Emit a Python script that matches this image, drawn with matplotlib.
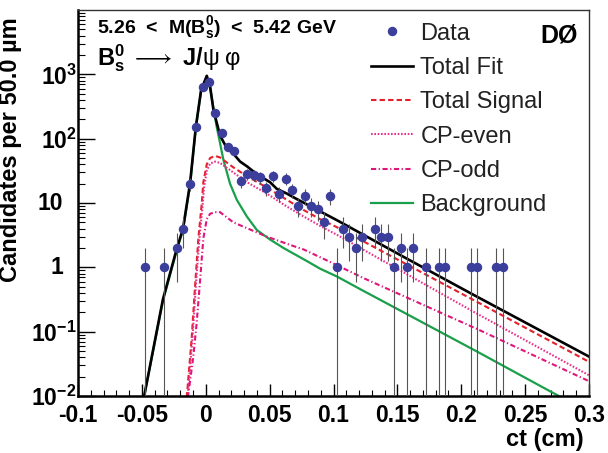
import matplotlib
matplotlib.use('Agg')
import matplotlib.pyplot as plt
from matplotlib.ticker import MultipleLocator, LogLocator, NullFormatter
import numpy as np

plt.rcParams['font.family'] = ['Liberation Sans', 'DejaVu Sans']
plt.rcParams['mathtext.fontset'] = 'custom'
plt.rcParams['mathtext.rm'] = 'Liberation Sans'
plt.rcParams['mathtext.it'] = 'Liberation Sans:italic'
plt.rcParams['mathtext.bf'] = 'Liberation Sans:bold'

# ------------------------------------------------------------------
# Data: candidates per 50 um bin (bin centres in cm)
# ------------------------------------------------------------------
bin_ct = [-0.0475, -0.0325, -0.0225, -0.0175, -0.0125, -0.0075, -0.0025,
          0.0025, 0.0075, 0.0125, 0.0175, 0.0225, 0.0275, 0.0325, 0.0375,
          0.0425, 0.0475, 0.0525, 0.0575, 0.0625, 0.0675, 0.0725, 0.0775,
          0.0825, 0.0875, 0.0925, 0.0975, 0.1025, 0.1075, 0.1125, 0.1175,
          0.1225, 0.1325, 0.1375, 0.1425, 0.1475, 0.1525, 0.1575, 0.1625,
          0.1725, 0.1825, 0.1875, 0.2075, 0.2125, 0.2275, 0.2325]
counts = [1, 1, 2, 4, 20, 150, 645,
          770, 250, 121, 73, 65, 22, 28, 27,
          25, 17, 26, 14, 24, 16, 9, 13,
          9, 8, 5, 13, 1, 4, 3, 2,
          3, 4, 3, 3, 1, 2, 1, 2,
          1, 1, 1, 1, 1, 1, 1]

# Fit curves
fit_ct = [-0.0484, -0.0335, -0.0225, -0.0178, -0.0123, -0.0078, -0.0037,
          0.0008, 0.0035, 0.006, 0.0112, 0.0165, 0.0214, 0.0269, 0.0324,
          0.04, 0.0504, 0.0556, 0.0635, 0.0713, 0.0896, 0.1027, 0.155,
          0.21, 0.30]
fit_val = [0.0095, 0.32, 2.0, 4.0, 20, 150, 560,
           950, 630, 280, 112, 71, 59, 44, 37,
           28, 21, 16.6, 14, 11.5, 7.4, 5.4, 1.45,
           0.37, 0.041]

sig_ct = [-0.0149, -0.011, -0.0084, -0.0058, -0.0031, -0.0019, 0.0008,
          0.0034, 0.0073, 0.0112, 0.0214, 0.0324, 0.0478, 0.0635, 0.0765,
          0.0896, 0.1027, 0.2124, 0.30]
sig_val = [0.0095, 0.08, 0.5, 2.8, 10, 21, 40,
           50, 54, 51, 36, 26, 17.4, 11.2, 7.8,
           5.6, 4.2, 0.29, 0.034]

even_ct = [-0.0142, -0.0104, -0.0078, -0.0052, -0.0026, -0.0014, 0.0008,
           0.0034, 0.0073, 0.0112, 0.0214, 0.0324, 0.0478, 0.0635, 0.0765,
           0.0896, 0.1027, 0.2124, 0.30]
even_val = [0.0095, 0.08, 0.5, 2.5, 8.5, 17, 32,
            41, 44, 42, 30, 21, 14, 8.8, 6.2,
            4.4, 3.2, 0.19, 0.021]

odd_ct = [-0.0140, -0.0098, -0.0072, -0.0045, -0.0019, 0.0008, 0.0034,
          0.0073, 0.0112, 0.0216, 0.0478, 0.0669, 0.0765, 0.0998, 0.1235,
          0.2124, 0.30]
odd_val = [0.0095, 0.04, 0.13, 0.6, 2.8, 5.6, 6.8,
           7.2, 7.2, 5.0, 3.0, 2.2, 1.9, 1.15, 0.68,
           0.11, 0.017]

bkg_ct = [-0.0484, -0.0335, -0.0225, -0.0178, -0.0123, -0.0078, -0.0037,
          0.0008, 0.0035, 0.0085, 0.0112, 0.0138, 0.019, 0.0243, 0.0321,
          0.04, 0.0504, 0.0608, 0.0792, 0.0896, 0.1027, 0.1207, 0.2124,
          0.2784]
bkg_val = [0.0095, 0.3, 1.9, 3.8, 19, 145, 540,
           910, 600, 155, 85, 47, 20, 11.2, 6.2,
           3.8, 2.7, 2.0, 1.25, 0.95, 0.72, 0.46, 0.049,
           0.0095]

x_ticks = [-0.1, -0.05, 0, 0.05, 0.1, 0.15, 0.2, 0.25, 0.3]
x_labels = ['-0.1', '-0.05', '0', '0.05', '0.1', '0.15', '0.2', '0.25', '0.3']
y_ticks = [1e-2, 1e-1, 1, 10, 1e2, 1e3]
y_labels = [r'$\mathbf{10^{-2}}$', r'$\mathbf{10^{-1}}$', '', '',
            r'$\mathbf{10^{2}}$', r'$\mathbf{10^{3}}$']
# "1" and "10" sit further left than the powers of ten in the original
plain_ticks = [1, 10]
plain_labels = ['1', '10']

# ------------------------------------------------------------------
fig = plt.figure(figsize=(6.08, 4.53), dpi=100)
ax = fig.add_axes([78 / 608, 57 / 453, 511 / 608, 386 / 453])

n = np.array(counts, dtype=float)
err = np.sqrt(n)
ax.vlines(bin_ct, np.clip(n - err, 1e-4, None), n + err,
          color='#555555', lw=0.8, zorder=3)

h_fit, = ax.plot(fit_ct, fit_val, color='black', lw=1.9, zorder=2, label='Total Fit')
h_sig, = ax.plot(sig_ct, sig_val, color='#e4202c', lw=1.5, ls=(0, (2.6, 1.5)),
                 zorder=2, label='Total Signal')
h_even, = ax.plot(even_ct, even_val, color='#e8338c', lw=1.5, ls=(0, (0.8, 0.8)),
                  zorder=2, label='CP-even')
h_odd, = ax.plot(odd_ct, odd_val, color='#e0157a', lw=1.5, ls=(0, (2.5, 1.2, 0.6, 1.2)),
                 zorder=2, label='CP-odd')
h_bkg, = ax.plot(bkg_ct, bkg_val, color='#1a9f4a', lw=1.6, zorder=1.9, label='Background')
h_data, = ax.plot(bin_ct, counts, 'o', ms=5.8, color='#3b3f9b', zorder=4, label='Data')

ax.set_yscale('log')
ax.set_xlim(-0.1, 0.3)
ax.set_ylim(1e-2, 1e4)

ax.set_xticks(x_ticks)
ax.set_xticklabels(x_labels, fontsize=16.5, fontweight='bold')
ax.xaxis.set_minor_locator(MultipleLocator(0.01))
ax.set_yticks(y_ticks)
ax.set_yticklabels(y_labels, fontsize=16.5, fontweight='bold')
ax.yaxis.set_minor_locator(LogLocator(base=10, subs=np.arange(2, 10), numticks=20))
ax.yaxis.set_minor_formatter(NullFormatter())
for v, s in zip(plain_ticks, plain_labels):
    ax.text(-0.029, v, s, transform=ax.get_yaxis_transform(), ha='right', va='center',
            fontsize=16.5, fontweight='bold')

ax.tick_params(axis='both', which='both', direction='in', top=False, right=False,
               colors='black')
ax.tick_params(axis='y', which='major', length=12, width=1.0, pad=1)
ax.tick_params(axis='y', which='minor', length=5, width=0.8)
ax.tick_params(axis='x', which='major', length=9, width=1.0, pad=6)
ax.tick_params(axis='x', which='minor', length=4.5, width=0.8)

for side in ['left', 'bottom']:
    ax.spines[side].set_linewidth(1.8)
for side in ['top', 'right']:
    ax.spines[side].set_linewidth(1.0)
    ax.spines[side].set_color('#333333')

ax.set_ylabel('Candidates per 50.0 µm', fontsize=17, fontweight='bold')
ax.yaxis.set_label_coords(-0.11, 0.637)
ax.set_xlabel('ct (cm)', fontsize=17, fontweight='bold', ha='right', va='center')
ax.xaxis.set_label_coords(0.99, -0.112)

ax.text(0.037, 0.940, r'5.26  <  M($\mathbf{B_s^0}$)  <  5.42 GeV', transform=ax.transAxes,
        fontsize=14, fontweight='bold', va='baseline')
ax.text(0.037, 0.8575,
        r'$\mathbf{B_s^0}$ $\longrightarrow$ J/$\mathrm{\psi}\;\mathrm{\varphi}$',
        transform=ax.transAxes, fontsize=17, fontweight='bold', va='baseline')
ax.text(0.978, 0.964, 'DØ', transform=ax.transAxes, fontsize=18, fontweight='bold',
        ha='right', va='top')

leg = ax.legend(handles=[h_data, h_fit, h_sig, h_even, h_odd, h_bkg],
                loc='upper left', bbox_to_anchor=(0.573, 0.967), frameon=False,
                fontsize=17, handlelength=1.8, handletextpad=0.3, labelspacing=0.52,
                borderpad=0, borderaxespad=0, numpoints=1)
for t in leg.get_texts():
    t.set_color('#222222')

fig.savefig('out.png', dpi=100)
